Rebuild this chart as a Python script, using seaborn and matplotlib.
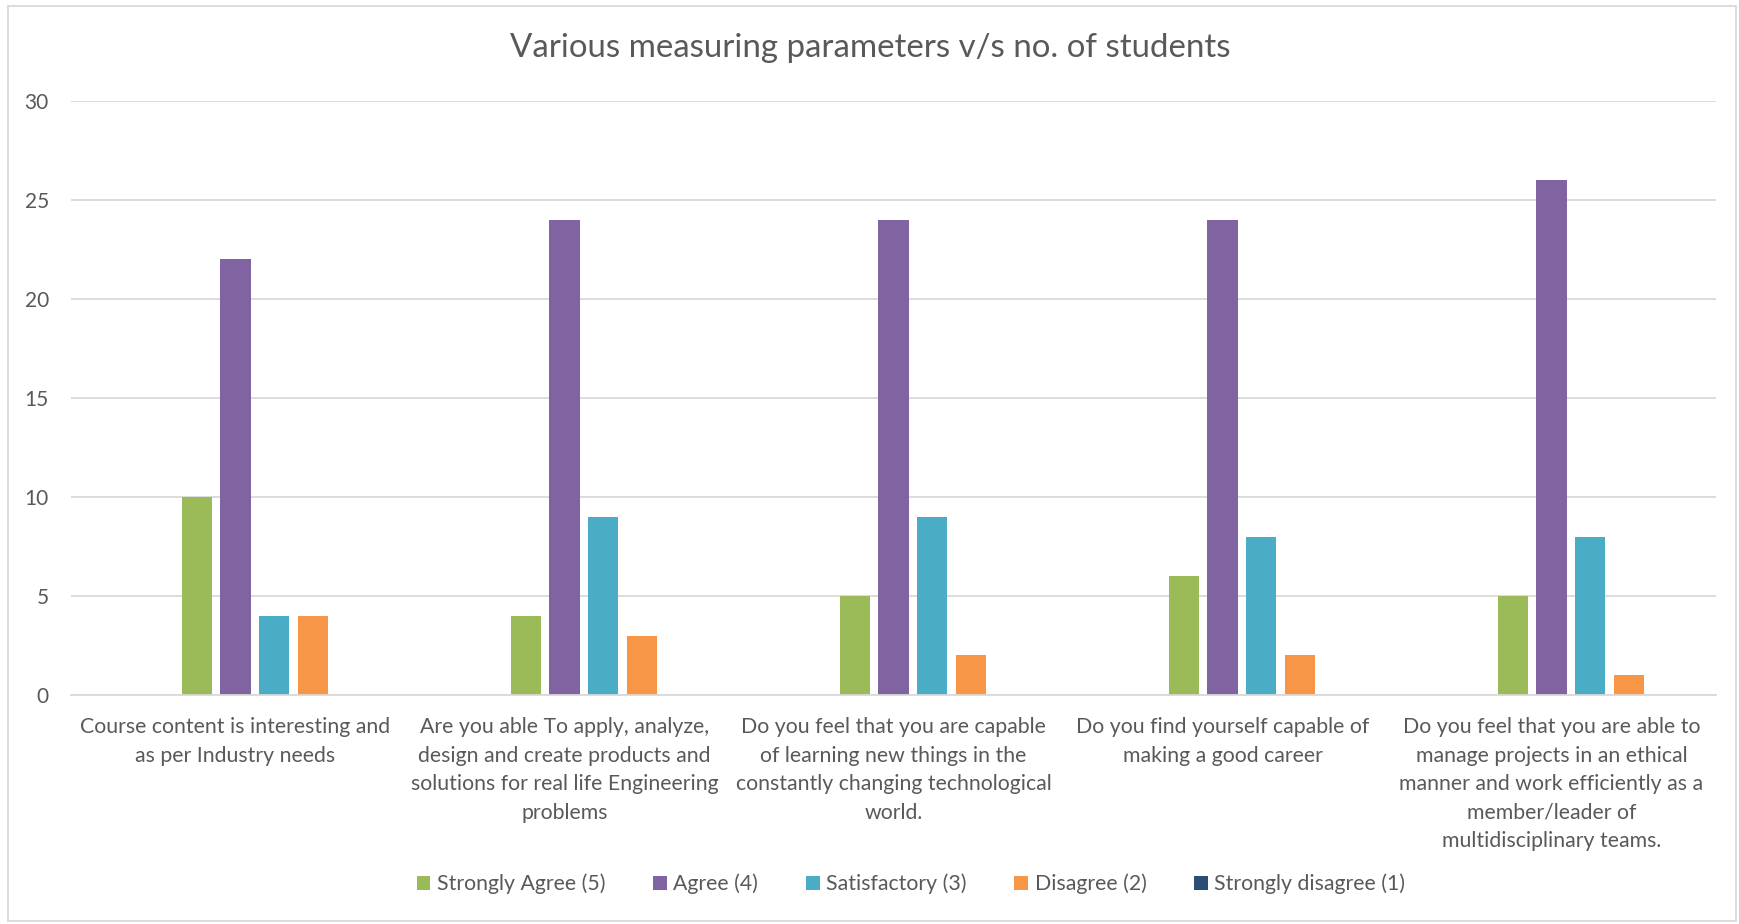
import numpy as np
import pandas as pd
import matplotlib
matplotlib.use('Agg')
import matplotlib.pyplot as plt
from matplotlib.patches import Rectangle, Patch
import seaborn as sns

# 数据
questions = [
    "Course content is interesting and\nas per Industry needs",
    "Are you able To apply, analyze,\ndesign and create products and\nsolutions for real life Engineering\nproblems",
    "Do you feel that you are capable\nof learning new things in the\nconstantly changing technological\nworld.",
    "Do you find yourself capable of\nmaking a good career",
    "Do you feel that you are able to\nmanage projects in an ethical\nmanner and work efficiently as a\nmember/leader of\nmultidisciplinary teams.",
]
responses = ["Strongly Agree (5)", "Agree (4)", "Satisfactory (3)", "Disagree (2)", "Strongly disagree (1)"]
strongly_agree = [10, 4, 5, 6, 5]
agree = [22, 24, 24, 24, 26]
satisfactory = [4, 9, 9, 8, 8]
disagree = [4, 3, 2, 2, 1]
strongly_disagree = [0, 0, 0, 0, 0]
colors = ['#9BBB59', '#8064A2', '#4BACC6', '#F79646', '#2C4D75']

values = [strongly_agree, agree, satisfactory, disagree, strongly_disagree]
rows = []
for resp, vals in zip(responses, values):
    for q, v in zip(questions, vals):
        rows.append({'question': q, 'response': resp, 'count': v})
df = pd.DataFrame(rows)

sns.set_theme(style='white')
plt.rcParams['font.family'] = ['Lato', 'DejaVu Sans']
text_color = '#595959'

fig = plt.figure(figsize=(17.4, 9.24), dpi=100)
ax = fig.add_axes([71 / 1740, 1 - 695 / 924, (1716 - 71) / 1740, (695 - 101) / 924])

group_w = 0.588
slot = group_w / len(responses)
sns.barplot(data=df, x='question', y='count', hue='response', order=questions,
            hue_order=responses, palette=colors, width=group_w, gap=0.21,
            linewidth=0, saturation=1, ax=ax, legend=False)

ax.set_ylim(0, 30)
ax.set_yticks(range(0, 31, 5))
ax.set_xlim(-0.5 - slot, 4.5 - slot)
ax.set_xticks(np.arange(len(questions)) - slot)
ax.set_xticklabels(questions, fontsize=15.3, color=text_color, linespacing=1.53)
ax.tick_params(axis='y', labelsize=15, labelcolor=text_color, length=0, pad=16)
ax.tick_params(axis='x', length=0, pad=16)
ax.yaxis.grid(True, color='#D9D9D9', linewidth=1.3)
ax.set_axisbelow(True)
for s in ['left', 'right', 'top']:
    ax.spines[s].set_visible(False)
ax.spines['bottom'].set_color('#D9D9D9')
ax.spines['bottom'].set_linewidth(1.3)
ax.set_xlabel('')
ax.set_ylabel('')

fig.text(0.5, 1 - 48 / 924, 'Various measuring parameters v/s no. of students',
         ha='center', va='center', fontsize=23.8, color=text_color)

handles = [Patch(facecolor=c, edgecolor='none') for c in colors]
fig.legend(handles, responses, loc='center', bbox_to_anchor=(911 / 1740, 1 - 884 / 924),
           ncol=5, frameon=False, fontsize=15.3, labelcolor=text_color,
           handlelength=0.65, handleheight=0.65, handletextpad=0.3, columnspacing=2.25)

fig.patches.append(Rectangle((8 / 1740, 3 / 924), 1 - 12 / 1740, 1 - 9 / 924,
                             transform=fig.transFigure, fill=False,
                             edgecolor='#D9D9D9', linewidth=1.3))

fig.savefig('out.png', dpi=100)
